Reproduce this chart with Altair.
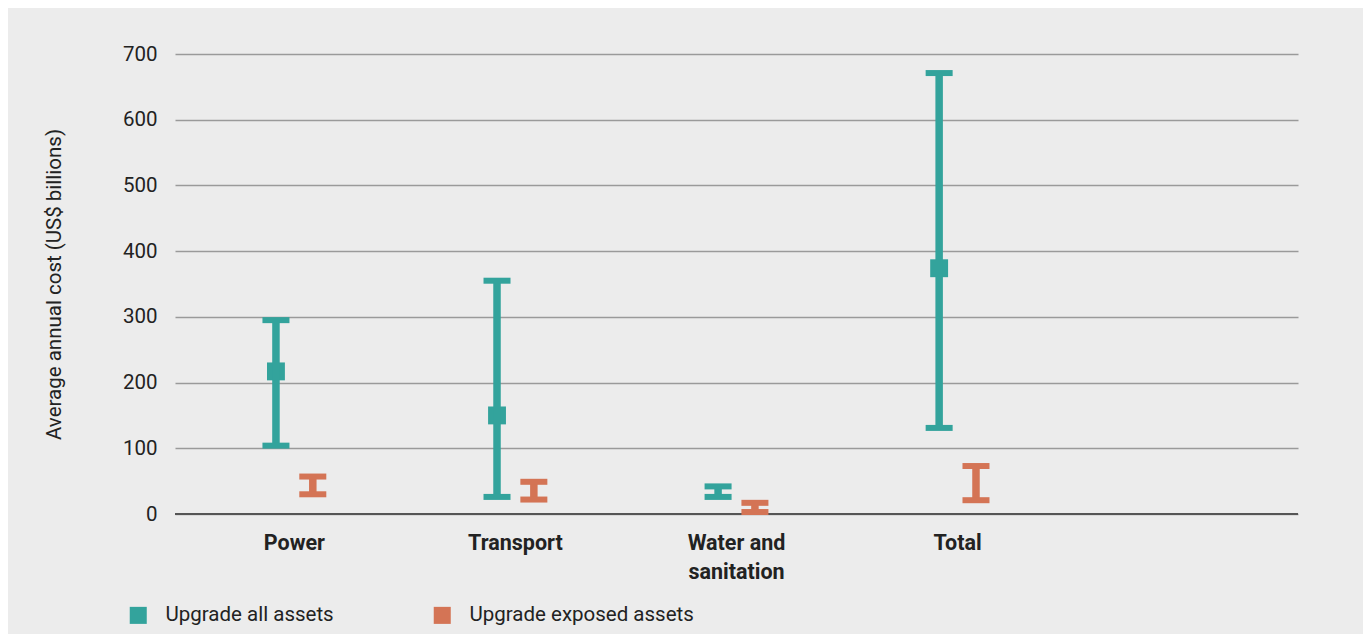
import altair as alt
import pandas as pd

categories = ["Power", "Transport", "Water and sanitation", "Total"]
series = ["Upgrade all assets", "Upgrade exposed assets"]

all_low = [104, 26, 26, 131]
all_high = [295, 355, 42, 671]
all_mid = [217, 150, None, 374]

exp_low = [30, 22, 3, 21]
exp_high = [57, 49, 17, 73]

rows = []
for i, c in enumerate(categories):
    rows.append({"cat": c, "series": series[0], "low": all_low[i], "high": all_high[i], "mid": all_mid[i]})
    rows.append({"cat": c, "series": series[1], "low": exp_low[i], "high": exp_high[i], "mid": None})
df = pd.DataFrame(rows)

TEAL = "#33a39c"
ORANGE = "#d47455"
BG = "#ececec"
FONT = "Roboto"

x_domain = categories + [" "]
offset_domain = ["_l"] + series + ["_r"]

x_enc = alt.X(
    "cat:N",
    scale=alt.Scale(domain=x_domain, paddingInner=0, paddingOuter=0.04),
    axis=alt.Axis(
        title=None,
        labelAngle=0,
        labelFont=FONT,
        labelFontSize=21.5,
        labelFontWeight="bold",
        labelColor="#222222",
        labelPadding=18,
        labelBaseline="top",
        labelLineHeight=29,
        labelExpr="datum.value == 'Water and sanitation' ? ['Water and', 'sanitation'] : datum.value",
        ticks=False,
        domain=False,
        grid=False,
    ),
)
xoff = alt.XOffset(
    "series:N",
    scale=alt.Scale(domain=offset_domain, paddingInner=0, paddingOuter=1),
)
color = alt.Color(
    "series:N",
    scale=alt.Scale(domain=series, range=[TEAL, ORANGE]),
    legend=alt.Legend(
        title=None,
        orient="none",
        legendX=-47,
        legendY=551,
        direction="horizontal",
        symbolType="square",
        symbolSize=290,
        symbolStrokeWidth=0,
        labelFont=FONT,
        labelFontSize=20.5,
        labelColor="#222222",
        labelOffset=17,
        labelLimit=0,
        columnPadding=98,
        padding=0,
    ),
)
y_scale = alt.Scale(domain=[0, 700])

base = alt.Chart(df)

squares = base.mark_square(size=320, opacity=1, strokeWidth=0).encode(
    x=x_enc,
    xOffset=xoff,
    y=alt.Y(
        "mid:Q",
        scale=y_scale,
        axis=alt.Axis(
            title="Average annual cost (US$ billions)",
            titleFont=FONT,
            titleFontSize=20.5,
            titleFontWeight="normal",
            titleColor="#222222",
            titlePadding=58,
            values=[0, 100, 200, 300, 400, 500, 600, 700],
            labelFont=FONT,
            labelFontSize=20.5,
            labelColor="#222222",
            labelPadding=18,
            ticks=False,
            domain=False,
            grid=True,
            gridColor="#9a9a9a",
            gridWidth=1.5,
        ),
    ),
    color=color,
)

stems = base.mark_rule(strokeWidth=7.5).encode(
    x=x_enc,
    xOffset=xoff,
    y=alt.Y("low:Q", scale=y_scale),
    y2="high:Q",
    color=alt.Color("series:N", legend=None),
)

cap_low = base.mark_tick(size=27, thickness=6, opacity=1).encode(
    x=x_enc,
    xOffset=xoff,
    y=alt.Y("low:Q", scale=y_scale),
    color=alt.Color("series:N", legend=None),
)
cap_high = base.mark_tick(size=27, thickness=6, opacity=1).encode(
    x=x_enc,
    xOffset=xoff,
    y=alt.Y("high:Q", scale=y_scale),
    color=alt.Color("series:N", legend=None),
)

zero_line = alt.Chart(pd.DataFrame({"v": [0]})).mark_rule(color="#555555", strokeWidth=2).encode(
    y=alt.Y("v:Q", scale=y_scale)
)

chart = alt.layer(squares, zero_line, stems, cap_low, cap_high).properties(
    width=1123,
    height=460,
    background=BG,
    padding={"left": 167, "top": 46, "right": 65, "bottom": 120},
    autosize=alt.AutoSizeParams(type="none"),
).configure_view(stroke=None, fill=BG)

chart.save("out.html", embed_options={"renderer": "svg", "actions": False})
